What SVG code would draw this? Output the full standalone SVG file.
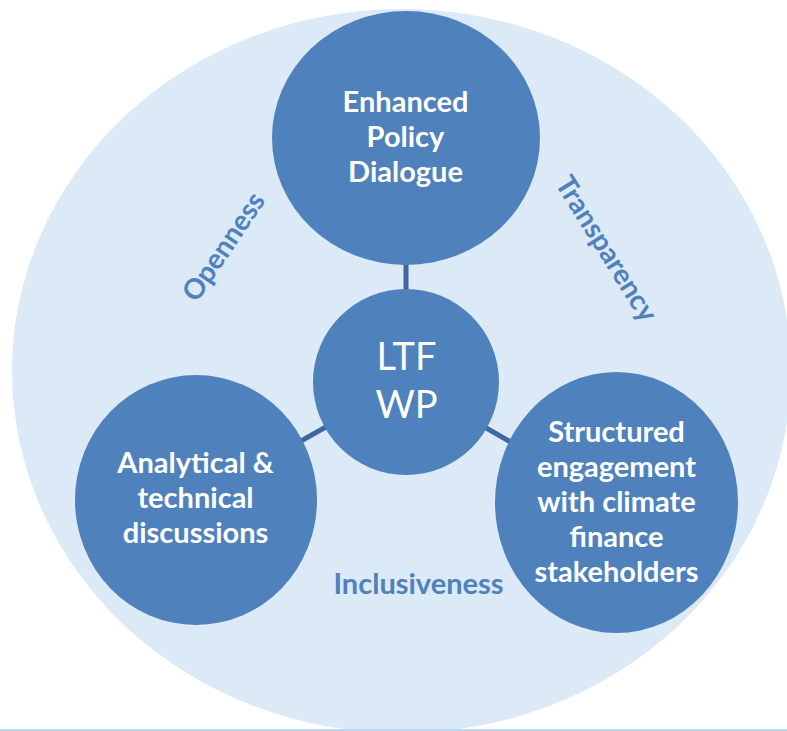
<svg xmlns="http://www.w3.org/2000/svg" width="787" height="731" viewBox="0 0 787 731">
  <style>
    .bg { fill: #dce9f7; }
    .node { fill: #4f81bd; }
    .lbl { font-family: Lato, "Open Sans", "Liberation Sans", sans-serif; font-weight: 700; font-size: 29px; fill: #ffffff; text-anchor: middle; }
    .hub { font-family: Lato, "Open Sans", "Liberation Sans", sans-serif; font-weight: 400; font-size: 38px; fill: #ffffff; text-anchor: middle; }
    .val { font-family: Lato, "Open Sans", "Liberation Sans", sans-serif; font-weight: 700; font-size: 28px; fill: #4f81bd; text-anchor: middle; }
    .conn line { stroke: #3d679e; stroke-width: 5; }
  </style>

  <!-- page background and large halo -->
  <rect x="0" y="0" width="787" height="731" fill="#ffffff"/>
  <ellipse class="bg" cx="401.5" cy="371" rx="389.5" ry="362"/>
  <rect x="0" y="729" width="787" height="2" fill="#bdd7ee"/>

  <!-- values around the hub -->
  <g id="values">
    <text class="val" transform="translate(224,247) rotate(-56)" x="0" y="9">Openness</text>
    <text class="val" transform="translate(606,249) rotate(58)" x="0" y="9">Transparency</text>
    <text class="val" x="418.5" y="594" style="font-size:29px">Inclusiveness</text>
  </g>

  <!-- spokes from the hub to each pillar -->
  <g id="connectors" class="conn">
    <line x1="406" y1="382" x2="406" y2="138"/>
    <line x1="406" y1="382" x2="196" y2="500"/>
    <line x1="406" y1="382" x2="616.5" y2="502.5"/>
  </g>

  <g id="node-policy">
    <ellipse class="node" cx="406" cy="138" rx="134" ry="127"/>
    <text class="lbl" x="405.5" y="112">Enhanced</text>
    <text class="lbl" x="405.5" y="147">Policy</text>
    <text class="lbl" x="405.5" y="182">Dialogue</text>
  </g>

  <g id="node-hub">
    <ellipse class="node" cx="406" cy="382" rx="93" ry="93"/>
    <text class="hub" x="406.5" y="370">LTF</text>
    <text class="hub" x="406.5" y="418">WP</text>
  </g>

  <g id="node-analytical">
    <ellipse class="node" cx="196" cy="500" rx="121" ry="125"/>
    <text class="lbl" x="195.5" y="473">Analytical &amp;</text>
    <text class="lbl" x="195.5" y="508">technical</text>
    <text class="lbl" x="195.5" y="543">discussions</text>
  </g>

  <g id="node-engagement">
    <ellipse class="node" cx="616.5" cy="502.5" rx="121.5" ry="130.5"/>
    <text class="lbl" x="616.5" y="442">Structured</text>
    <text class="lbl" x="616.5" y="477">engagement</text>
    <text class="lbl" x="616.5" y="512">with climate</text>
    <text class="lbl" x="616.5" y="547">finance</text>
    <text class="lbl" x="616.5" y="582">stakeholders</text>
  </g>
</svg>
